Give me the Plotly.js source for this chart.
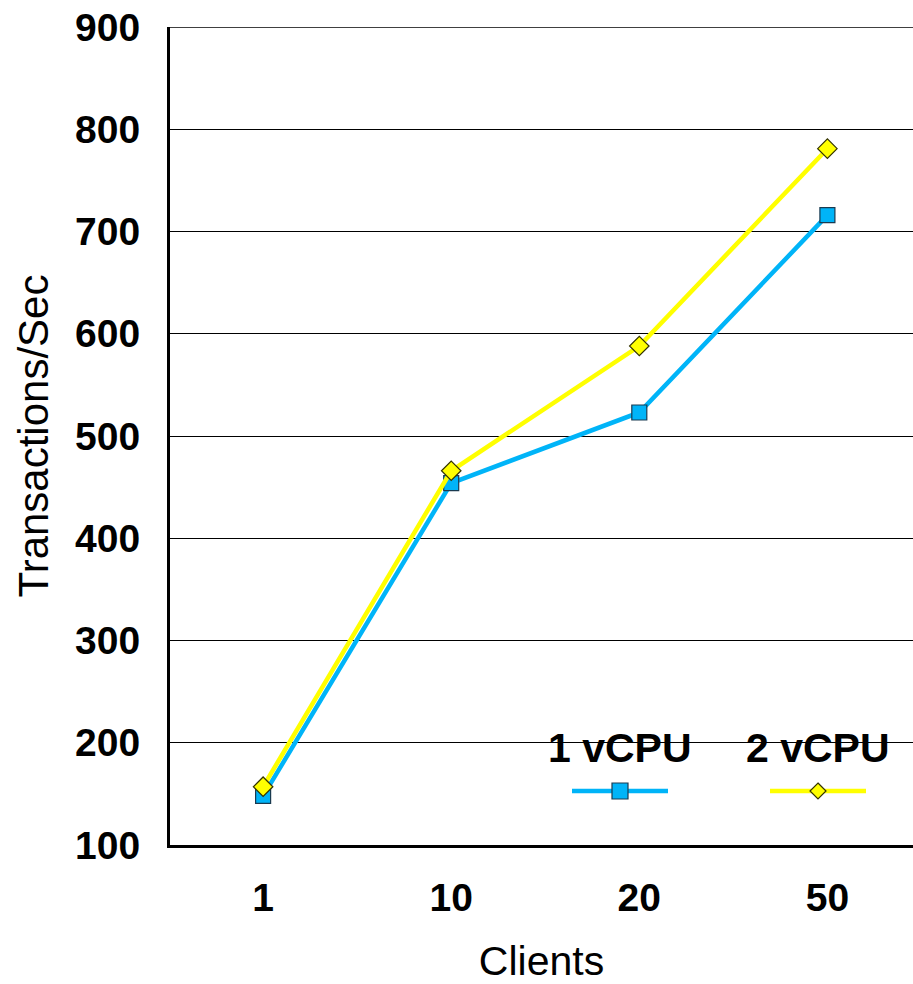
<!DOCTYPE html>
<html>
<head>
<meta charset="utf-8">
<script src="https://cdn.plot.ly/plotly-3.0.1.min.js"></script>
<style>html,body{margin:0;padding:0;background:#fff;}#chart{width:913px;height:984px;}</style>
</head>
<body>
<div id="chart"></div>
<script>
const categories = ["1", "10", "20", "50"];
const series1Name = "1 vCPU";
const series1 = [148, 454, 523, 716];
const series2Name = "2 vCPU";
const series2 = [157, 466, 588, 781];
const yTicks = [100, 200, 300, 400, 500, 600, 700, 800, 900];

const blue = "#00B4F8";
const yellow = "#FFFF00";
const font = "Liberation Sans, Arial, sans-serif";

const traces = [
  {x: categories, y: series1, name: series1Name, type: "scatter", mode: "lines+markers",
   line: {color: blue, width: 4.5},
   marker: {symbol: "square", size: 15, color: blue, line: {color: "#1a3a50", width: 1.2}}},
  {x: categories, y: series2, name: series2Name, type: "scatter", mode: "lines+markers",
   line: {color: yellow, width: 4.5},
   marker: {symbol: "diamond", size: 15, color: yellow, line: {color: "#333300", width: 1.2}}}
];

// legend drawn as shapes/annotations in paper space (text above symbol)
function px(x){ return (x - 170) / (913 - 170); }
function py(y){ return (845 - y) / (845 - 27); }
const legendItems = [
  {name: series1Name, cx: 620, color: blue, sym: "square", edge: "#1a3a50"},
  {name: series2Name, cx: 818, color: yellow, sym: "diamond", edge: "#333300"}
];
const shapes = [
  {type: "line", xref: "paper", yref: "y", x0: 0, x1: 1, y0: 900, y1: 900,
   line: {color: "#000", width: 1.5}}
];
const annotations = [];
legendItems.forEach(it => {
  shapes.push({type: "line", xref: "paper", yref: "paper",
    x0: px(it.cx - 48), x1: px(it.cx + 48), y0: py(791), y1: py(791),
    line: {color: it.color, width: 4.5}});
  if (it.sym === "square") {
    shapes.push({type: "rect", xref: "paper", yref: "paper",
      x0: px(it.cx - 8), x1: px(it.cx + 8), y0: py(799), y1: py(783),
      fillcolor: it.color, line: {color: it.edge, width: 1.2}});
  } else {
    shapes.push({type: "path", xref: "paper", yref: "paper",
      path: `M ${px(it.cx)} ${py(783)} L ${px(it.cx + 8)} ${py(791)} L ${px(it.cx)} ${py(799)} L ${px(it.cx - 8)} ${py(791)} Z`,
      fillcolor: it.color, line: {color: it.edge, width: 1.2}});
  }
  annotations.push({xref: "paper", yref: "paper", x: px(it.cx), y: py(748),
    text: "<b>" + it.name + "</b>", showarrow: false, xanchor: "center", yanchor: "middle",
    font: {family: font, size: 41, color: "#000"}});
});

const layout = {
  width: 913, height: 984,
  margin: {l: 170, r: 0, t: 27, b: 139},
  paper_bgcolor: "#fff", plot_bgcolor: "#fff",
  showlegend: false,
  font: {family: font, color: "#000"},
  xaxis: {
    type: "category", range: [-0.495, 3.455],
    showgrid: false, zeroline: false,
    showline: true, linecolor: "#000", linewidth: 3,
    ticks: "", ticklabelstandoff: 16,
    tickfont: {family: font, size: 39, color: "#000", weight: "bold"},
    title: {text: "Clients", font: {family: font, size: 41, color: "#000"}, standoff: 30}
  },
  yaxis: {
    range: [100, 900], tickvals: yTicks, ticktext: yTicks.map(String),
    showgrid: true, gridcolor: "#000", gridwidth: 1,
    zeroline: false, showline: true, linecolor: "#000", linewidth: 3,
    ticks: "", ticklabelstandoff: 19,
    tickfont: {family: font, size: 39, color: "#000", weight: "bold"},
    title: {text: "Transactions/Sec", font: {family: font, size: 42, color: "#000"}, standoff: 14}
  },
  shapes: shapes,
  annotations: annotations
};

Plotly.newPlot("chart", traces, layout, {displayModeBar: false, staticPlot: true});
</script>
</body>
</html>
